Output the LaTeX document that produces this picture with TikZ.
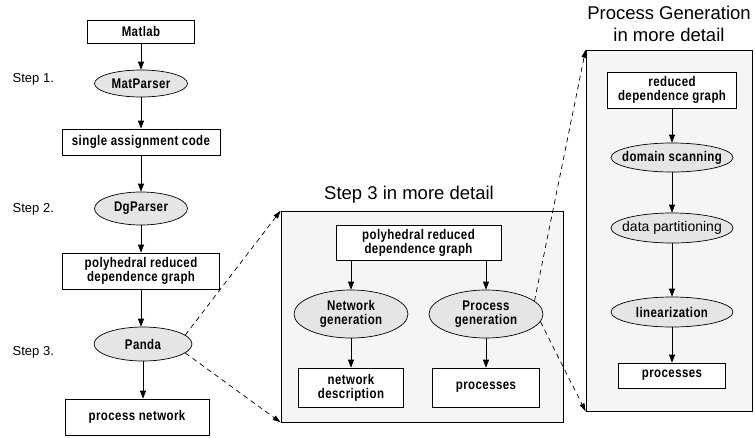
\documentclass[tikz,border=0pt]{standalone}
\usepackage{fontspec}
\setmainfont{Liberation Sans}
\newfontfamily\boxfont[FakeStretch=0.82, LetterSpace=3]{Liberation Sans}
\usetikzlibrary{positioning, arrows.meta, shapes.geometric}

\begin{document}
\begin{tikzpicture}[x=1pt, y=-1pt, line width=0.7pt,
	stepbox/.style={
		draw,
		rectangle,
		fill=white,
		align=center,
		inner sep=1pt,
		font=\boxfont\bfseries\fontsize{14}{14}\selectfont
	},
	oval/.style={
		draw,
		ellipse,
		fill=gray!20,
		align=center,
		inner xsep=-20pt,
		inner ysep=-10pt,
		font=\boxfont\bfseries\fontsize{14}{14}\selectfont
	},
	panel/.style={
		draw,
		rectangle,
		fill=gray!8,
		inner sep=0pt
	},
	steplabel/.style={
		anchor=west,
		font=\fontsize{13}{15}\selectfont
	},
	paneltitle/.style={
		align=center,
		font=\fontsize{18.5}{22}\selectfont
	},
	flow/.style={-{Triangle[length=8pt, width=6pt]}},
	zoomline/.style={dash pattern=on 5pt off 4pt, -{Triangle[length=8pt, width=5pt]}}
	]
	
	\useasboundingbox (0,0) rectangle (755,437);
	
	% Main flow
	\node (matlab) [stepbox, minimum width=107pt, minimum height=23pt] at (141, 31.5) {Matlab};
	\node (matparser) [oval, minimum width=93pt, minimum height=27pt] at (141, 83.5) {MatParser};
	\node (sac) [stepbox, minimum width=158pt, minimum height=26pt] at (141, 142) {single assignment code};
	\node (dgparser) [oval, minimum width=93pt, minimum height=33pt] at (141, 208.5) {DgParser};
	\node (prdg) [stepbox, minimum width=157pt, minimum height=36pt] at (141, 271) {polyhedral reduced\\dependence graph};
	\node (panda) [oval, minimum width=98pt, minimum height=34pt] at (143, 344) {Panda};
	\node (pn) [stepbox, minimum width=144pt, minimum height=36pt] at (137, 417) {process network};
	
	% Step labels
	\node (step1) [steplabel] at (9, 79) {Step 1.};
	\node (step2) [steplabel] at (9, 209) {Step 2.};
	\node (step3) [steplabel] at (9, 352) {Step 3.};
	
	\draw [flow] (matlab) -- (matparser);
	\draw [flow] (matparser) -- (sac);
	\draw [flow] (sac) -- (dgparser);
	\draw [flow] (dgparser) -- (prdg);
	\draw [flow] (prdg.south) -- (prdg.south |- panda.north);
	\draw [flow] (panda.south) -- (panda.south |- pn.north);
	
	% Step 3 in more detail
	\node (detail) [panel, minimum width=282pt, minimum height=211pt] at (422, 316.5) {};
	\node (detailtitle) [paneltitle] at (409, 195) {Step 3 in more detail};
	\node (dprdg) [stepbox, minimum width=165pt, minimum height=35pt] at (418.5, 242.5) {polyhedral reduced\\dependence graph};
	\node (netgen) [oval, minimum width=114pt, minimum height=48pt] at (351, 314) {Network\\generation};
	\node (procgen) [oval, minimum width=114pt, minimum height=48pt] at (486, 314) {Process\\generation};
	\node (netdesc) [stepbox, minimum width=105pt, minimum height=39pt] at (351, 387.5) {network\\description};
	\node (procs) [stepbox, minimum width=107pt, minimum height=39pt] at (486, 387.5) {processes};
	
	\draw [flow] (dprdg.south -| netgen) -- (netgen);
	\draw [flow] (dprdg.south -| procgen) -- (procgen);
	\draw [flow] (netgen) -- (netdesc);
	\draw [flow] (procgen) -- (procs);
	
	% Process generation in more detail
	\node (pgdetail) [panel, minimum width=166pt, minimum height=361pt] at (669, 230.5) {};
	\node (pgtitle) [paneltitle] at (669, 24) {Process Generation\\in more detail};
	\node (rdg) [stepbox, minimum width=129pt, minimum height=36pt] at (672, 90) {reduced\\dependence graph};
	\node (domscan) [oval, minimum width=122pt, minimum height=29pt] at (672, 157.5) {domain scanning};
	\node (datapart) [oval, minimum width=122pt, minimum height=30pt, font=\fontsize{14}{14}\selectfont] at (672, 228) {data partitioning};
	\node (linear) [oval, minimum width=122pt, minimum height=30pt] at (672, 312) {linearization};
	\node (pgprocs) [stepbox, minimum width=107pt, minimum height=25pt] at (672, 375.5) {processes};
	
	\draw [flow] (rdg) -- (domscan);
	\draw [flow] (domscan) -- (datapart);
	\draw [flow] (datapart) -- (linear);
	\draw [flow] (linear) -- (pgprocs);
	
	% Zoom lines
	\draw [zoomline] (panda.12) -- (detail.north west);
	\draw [zoomline] (panda.-12) -- (detail.south west);
	\draw [zoomline] (procgen.15) -- (pgdetail.north west);
	\draw [zoomline] (procgen.-8) -- (pgdetail.south west);
	
\end{tikzpicture}
\end{document}
